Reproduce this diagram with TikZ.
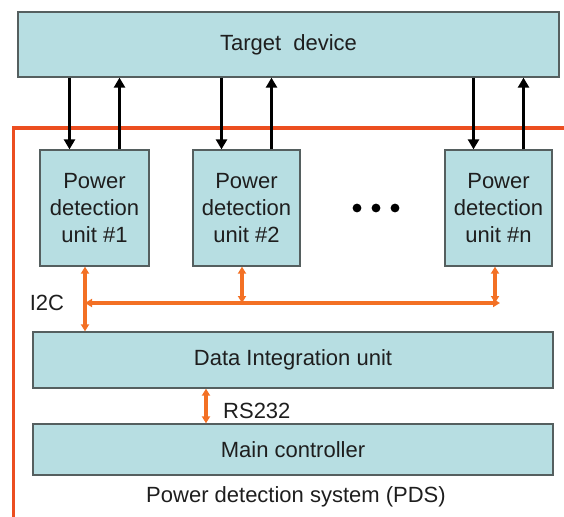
\documentclass[tikz,border=0pt]{standalone}
\usepackage{fontspec}
\setmainfont{Liberation Sans}
\usetikzlibrary{arrows.meta,calc}
\definecolor{boxfill}{RGB}{183,222,226}
\definecolor{boxline}{RGB}{85,95,95}
\definecolor{busor}{RGB}{243,112,36}
\definecolor{framered}{RGB}{236,78,32}
\definecolor{txt}{RGB}{30,30,30}
\begin{document}
\begin{tikzpicture}[x=1pt,y=-1pt,
  box/.style={draw=boxline,line width=1.3pt,fill=boxfill,inner sep=0pt,text=txt,font=\fontsize{22}{27}\selectfont,align=center},
  blk/.style={line width=3.6pt,-{Triangle[length=10pt,width=11pt]}},
  bus/.style={draw=busor,line width=3.4pt},
  busarr/.style={bus,{Triangle[length=7pt,width=8pt]}-{Triangle[length=7pt,width=8pt]}},
  lbl/.style={text=txt,font=\fontsize{22}{27}\selectfont,inner sep=0pt}]
\useasboundingbox (0,0) rectangle (564,516);
% red frame
\coordinate (fr1) at (566,128);
\coordinate (fr2) at (13.5,128);
\coordinate (fr3) at (13.5,518);
\draw[framered,line width=3.6pt] (fr1) -- (fr2) -- (fr3);
% boxes
\node[box,minimum width=541pt,minimum height=65pt] (T) at (288.5,44.5) {Target\ \ device};
\node[box,minimum width=109pt,minimum height=116pt] (P1) at (94.5,208) {Power\\detection\\unit \#1};
\node[box,minimum width=107pt,minimum height=116pt] (P2) at (246.5,208) {Power\\detection\\unit \#2};
\node[box,minimum width=107pt,minimum height=116pt] (Pn) at (498.5,208) {Power\\detection\\unit \#n};
\node[box,minimum width=520pt,minimum height=56pt] (D) at (293,360) {Data Integration unit};
\node[box,minimum width=520pt,minimum height=51pt] (M) at (293,449.5) {Main controller};
% dots
\fill[black] (357,208) circle (4.4pt) (376,208) circle (4.4pt) (395,208) circle (4.4pt);
% black arrows
\foreach \p in {P1,P2,Pn}{
  \path (\p.north) ++(-25,0) coordinate (\p d) (\p.north) ++(25,0) coordinate (\p u);
  \draw[blk] (T.south -| \p d) -- (\p d);
  \draw[blk] (\p u) -- (T.south -| \p u);
}
% I2C bus
\path (P1.south) ++(-9.5,0) coordinate (b1);
\path (P2.south) ++(-4.5,0) coordinate (b2);
\path (Pn.south) ++(-3.5,0) coordinate (bn);
\coordinate (busL) at (85,303);
\coordinate (busR) at (500,303);
\draw[busarr] (b1) -- (D.north -| b1);
\draw[busarr] (busL) -- (busR);
\draw[busarr] (b2) -- (busL -| b2);
\draw[busarr] (bn) -- (busL -| bn);
\node[lbl] (i2c) at (47,303) {I2C};
% RS232
\coordinate (rs) at (206,0);
\draw[busarr] (D.south -| rs) -- (M.north -| rs);
\node[lbl,anchor=west] (rsl) at (223,411) {RS232};
\node[lbl,anchor=base] (pds) at (296,502) {Power detection system (PDS)};
\end{tikzpicture}
\end{document}
